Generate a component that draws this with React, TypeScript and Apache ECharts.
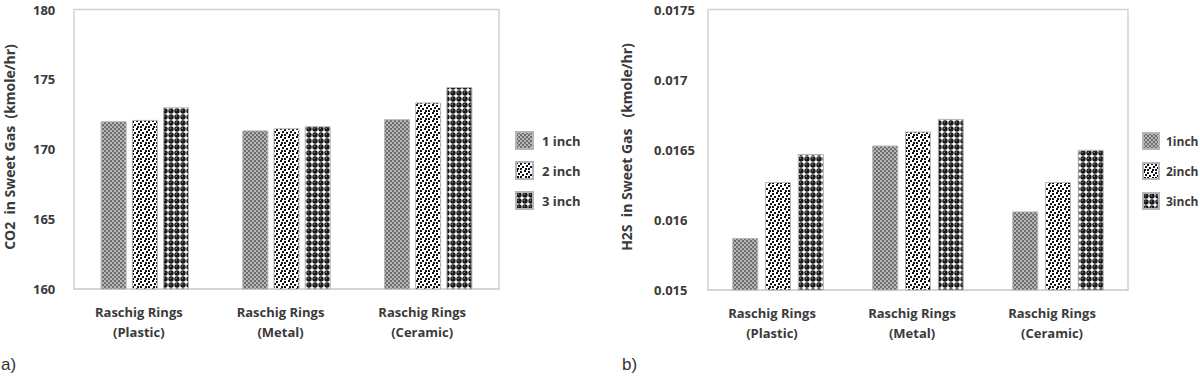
import React, { useEffect, useRef } from 'react';
import * as echarts from 'echarts';

const categories = ['Raschig Rings\n(Plastic)', 'Raschig Rings\n(Metal)', 'Raschig Rings\n(Ceramic)'];
const co2Names = ['1 inch', '2 inch', '3 inch'];
const h2sNames = ['1inch', '2inch', '3inch'];
const co2OneInch = [172.0, 171.35, 172.15];
const co2TwoInch = [172.1, 171.5, 173.35];
const co2ThreeInch = [173.0, 171.65, 174.45];
const h2sOneInch = [0.01587, 0.01653, 0.01606];
const h2sTwoInch = [0.01627, 0.01663, 0.01627];
const h2sThreeInch = [0.01647, 0.01672, 0.0165];
const co2TickLabels = ['160', '165', '170', '175', '180'];
const h2sTickLabels = ['0.015', '0.016', '0.0165', '0.017', '0.0175'];
const co2Title = 'CO2  in Sweet Gas  (kmole/hr)';
const h2sTitle = 'H2S  in Sweet Gas   (kmole/hr)';

const TEXT = '#3a3a3a';
const FONT = '"Open Sans", Lato, sans-serif';

function makeCanvas(size: number, draw: (ctx: CanvasRenderingContext2D) => void) {
  const c = document.createElement('canvas');
  c.width = size;
  c.height = size;
  const ctx = c.getContext('2d') as CanvasRenderingContext2D;
  draw(ctx);
  return c;
}

function makePatterns() {
  const p1 = makeCanvas(4, (ctx) => {
    ctx.fillStyle = '#6e6e6e';
    ctx.fillRect(0, 0, 4, 4);
    ctx.fillStyle = '#ffffff';
    ctx.beginPath(); ctx.arc(1, 1, 0.85, 0, Math.PI * 2); ctx.fill();
    ctx.beginPath(); ctx.arc(3, 3, 0.85, 0, Math.PI * 2); ctx.fill();
  });
  const p2 = makeCanvas(8, (ctx) => {
    ctx.fillStyle = '#ffffff';
    ctx.fillRect(0, 0, 8, 8);
    ctx.fillStyle = '#111111';
    const spots = [[0, 0], [4, 1], [2, 3], [6, 4], [1, 6], [4, 6]];
    spots.forEach(([x, y]) => ctx.fillRect(x, y, 2, 2));
  });
  const p3 = makeCanvas(6, (ctx) => {
    ctx.fillStyle = '#ffffff';
    ctx.fillRect(0, 0, 6, 6);
    ctx.fillStyle = '#1a1a1a';
    ctx.beginPath(); ctx.arc(3, 3, 2.7, 0, Math.PI * 2); ctx.fill();
    ctx.fillStyle = '#8a8a8a';
    ctx.beginPath(); ctx.arc(2.3, 2.3, 0.7, 0, Math.PI * 2); ctx.fill();
  });
  return [p1, p2, p3];
}

export default function App() {
  const ref = useRef<HTMLDivElement>(null);
  useEffect(() => {
    if (!ref.current) return;
    const chart = echarts.init(ref.current, undefined, { renderer: 'svg' });
    const pats = makePatterns();
    const fills = pats.map((p) => ({ image: p, repeat: 'repeat' }));

    const axisLabelStyle = {
      color: TEXT, fontFamily: FONT, fontWeight: 'bold' as const, fontSize: 13, lineHeight: 14,
      padding: [5, 0, 0, 0],
    };
    const catLabel = {
      color: TEXT, fontFamily: FONT, fontWeight: 'bold' as const, fontSize: 13,
      lineHeight: 20, margin: 13, padding: [0, 12, 0, 0], interval: 0,
    };

    const mkSeries = (names: string[], data: number[][], axisIdx: number, gap: string) =>
      names.map((n, i) => ({
        name: n,
        type: 'bar',
        xAxisIndex: axisIdx,
        yAxisIndex: axisIdx,
        data: data[i],
        barWidth: 26,
        barGap: gap,
        itemStyle: { color: fills[i], borderColor: '#b5b5b5', borderWidth: 1 },
      }));

    chart.setOption({
      animation: false,
      backgroundColor: '#ffffff',
      grid: [
        { left: 74, top: 6, width: 425, height: 283, show: true, borderColor: '#d2d2d2', borderWidth: 1.5 },
        { left: 708, top: 6, width: 420, height: 284, show: true, borderColor: '#d2d2d2', borderWidth: 1.5 },
      ],
      xAxis: [
        {
          type: 'category', gridIndex: 0, data: categories,
          axisLine: { lineStyle: { color: '#d2d2d2', width: 1.5 } }, axisTick: { show: false },
          axisLabel: catLabel,
        },
        {
          type: 'category', gridIndex: 1, data: categories,
          axisLine: { lineStyle: { color: '#d2d2d2', width: 1.5 } }, axisTick: { show: false },
          axisLabel: catLabel,
        },
      ],
      yAxis: [
        {
          type: 'value', gridIndex: 0, min: 160, max: 180, interval: 5,
          axisLine: { show: false }, axisTick: { show: false }, splitLine: { show: false },
          axisLabel: { ...axisLabelStyle, align: 'left', margin: 41, formatter: (_v: number, i: number) => co2TickLabels[i] },
        },
        {
          type: 'value', gridIndex: 1, min: 0.0155, max: 0.0175, interval: 0.0005,
          axisLine: { show: false }, axisTick: { show: false }, splitLine: { show: false },
          axisLabel: { ...axisLabelStyle, align: 'left', margin: 54, formatter: (_v: number, i: number) => h2sTickLabels[i] },
        },
      ],
      legend: [
        {
          orient: 'vertical', left: 510, top: 126, data: co2Names, icon: 'rect',
          itemWidth: 17, itemHeight: 17, itemGap: 11,
          textStyle: { color: TEXT, fontFamily: FONT, fontWeight: 'bold', fontSize: 13, padding: [0, 0, 0, 4] },
        },
        {
          orient: 'vertical', left: 1137, top: 127, data: h2sNames, icon: 'rect',
          itemWidth: 16, itemHeight: 16, itemGap: 12,
          textStyle: { color: TEXT, fontFamily: FONT, fontWeight: 'bold', fontSize: 12, padding: [0, 0, 0, 2] },
        },
      ],
      graphic: [
        {
          type: 'text', x: 9, y: 147, rotation: Math.PI / 2,
          style: { text: co2Title, fill: TEXT, font: `bold 14px ${FONT}`, align: 'center', verticalAlign: 'middle' },
        },
        {
          type: 'text', x: 626, y: 147, rotation: Math.PI / 2,
          style: { text: h2sTitle, fill: TEXT, font: `bold 14px ${FONT}`, align: 'center', verticalAlign: 'middle' },
        },
        {
          type: 'text', x: 1, y: 364,
          style: { text: 'a)', fill: '#333333', font: '17px "Liberation Sans", Arial, sans-serif', align: 'left', verticalAlign: 'middle' },
        },
        {
          type: 'text', x: 622, y: 364,
          style: { text: 'b)', fill: '#333333', font: '17px "Liberation Sans", Arial, sans-serif', align: 'left', verticalAlign: 'middle' },
        },
      ],
      series: [
        ...mkSeries(co2Names, [co2OneInch, co2TwoInch, co2ThreeInch], 0, '20%'),
        ...mkSeries(h2sNames, [h2sOneInch, h2sTwoInch, h2sThreeInch], 1, '26%'),
      ],
    });
    return () => chart.dispose();
  }, []);
  return (
    <div
      ref={ref}
      style={{ position: 'absolute', left: 0, top: 0, width: 1200, height: 376, background: '#fff' }}
    />
  );
}
